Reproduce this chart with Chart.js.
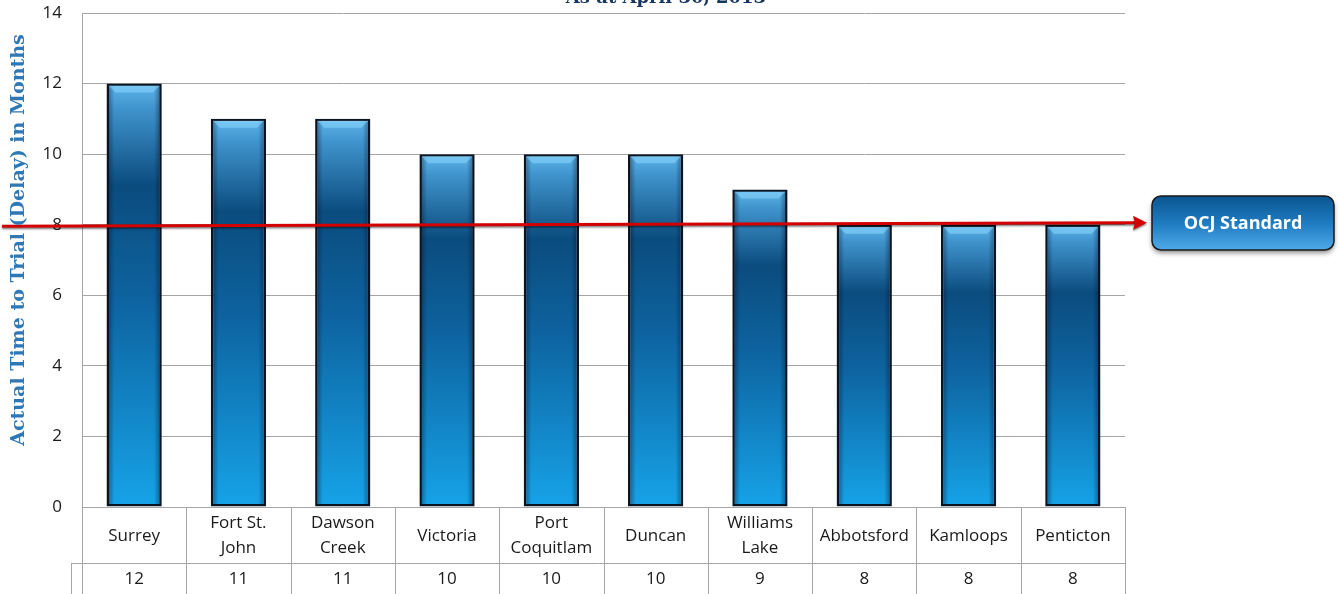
<!DOCTYPE html>
<html>
<head>
<meta charset="utf-8">
<script src="https://cdn.jsdelivr.net/npm/chart.js@4.4.0/dist/chart.umd.min.js"></script>
<style>
  html, body { margin: 0; padding: 0; background: #fff; }
  #wrap { width: 1338px; height: 594px; }
</style>
</head>
<body>
<div id="wrap"><canvas id="delayChart"></canvas></div>
<script>
// Time to trial by location
const locations = [
    'Surrey', ['Fort St.', 'John'], ['Dawson', 'Creek'], 'Victoria', ['Port', 'Coquitlam'],
    'Duncan', ['Williams', 'Lake'], 'Abbotsford', 'Kamloops', 'Penticton'
];
const monthsToTrial = [12, 11, 11, 10, 10, 10, 9, 8, 8, 8];
const ocjStandard = 8;
const yTicks = [0, 2, 4, 6, 8, 10, 12, 14];

const chartTitle = 'As at April 30, 2013';
const yTitle = 'Actual Time to Trial (Delay) in Months';
const standardLabel = 'OCJ Standard';

const LABEL_FONT = "'Open Sans', sans-serif";

function barGradient(context) {
    const chart = context.chart;
    if (!chart.chartArea || context.raw === undefined) return '#0e5f98';
    const y = chart.scales.y;
    const top = y.getPixelForValue(context.raw);
    const base = y.getPixelForValue(0);
    const g = chart.ctx.createLinearGradient(0, top, 0, base);
    g.addColorStop(0, '#5cb6ea');
    g.addColorStop(0.06, '#3f93cc');
    g.addColorStop(0.24, '#0b4c7e');
    g.addColorStop(0.5, '#0d629e');
    g.addColorStop(1, '#16a3e8');
    return g;
}

// bevel + side shading on the bars
const barShade = {
    id: 'barShade',
    afterDatasetsDraw(chart) {
        const ctx = chart.ctx;
        chart.getDatasetMeta(0).data.forEach(bar => {
            const l = bar.x - bar.width / 2, r = bar.x + bar.width / 2;
            const t = bar.y, b = bar.base;
            ctx.save();
            const h = ctx.createLinearGradient(l, 0, r, 0);
            h.addColorStop(0, 'rgba(0,15,40,0.5)');
            h.addColorStop(0.14, 'rgba(0,15,40,0)');
            h.addColorStop(0.86, 'rgba(0,15,40,0)');
            h.addColorStop(1, 'rgba(0,15,40,0.5)');
            ctx.fillStyle = h;
            ctx.fillRect(l + 1, t + 1, r - l - 2, b - t - 2);
            ctx.fillStyle = 'rgba(140,215,255,0.55)';
            ctx.beginPath();
            ctx.moveTo(l + 2, t + 2);
            ctx.lineTo(r - 2, t + 2);
            ctx.lineTo(r - 9, t + 9);
            ctx.lineTo(l + 9, t + 9);
            ctx.closePath();
            ctx.fill();
            ctx.restore();
        });
    }
};

// red standard arrow and the label box
const standardArrow = {
    id: 'standardArrow',
    afterDatasetsDraw(chart) {
        const ctx = chart.ctx;
        const yp = chart.scales.y.getPixelForValue(ocjStandard);
        const x0 = 2, x1 = 1136, tip = 1147;
        const y0 = yp + 1.5, y1 = yp - 2;
        ctx.save();
        ctx.shadowColor = 'rgba(0,0,0,0.5)';
        ctx.shadowOffsetY = 1.5;
        ctx.shadowBlur = 2;
        ctx.strokeStyle = '#d40000';
        ctx.lineWidth = 3;
        ctx.beginPath();
        ctx.moveTo(x0, y0);
        ctx.lineTo(x1, y1);
        ctx.stroke();
        ctx.fillStyle = '#d40000';
        ctx.beginPath();
        ctx.moveTo(tip, y1);
        ctx.lineTo(tip - 14, y1 - 7);
        ctx.lineTo(tip - 12, y1);
        ctx.lineTo(tip - 14, y1 + 7);
        ctx.closePath();
        ctx.fill();
        ctx.restore();

        // box
        const bx = 1152, by = 196, bw = 182, bh = 54;
        ctx.save();
        ctx.shadowColor = 'rgba(0,0,0,0.45)';
        ctx.shadowOffsetY = 3;
        ctx.shadowBlur = 5;
        const g = ctx.createLinearGradient(0, by, 0, by + bh);
        g.addColorStop(0, '#0a5590');
        g.addColorStop(0.5, '#1f7bc0');
        g.addColorStop(1, '#4eaae8');
        ctx.fillStyle = g;
        ctx.beginPath();
        ctx.roundRect(bx, by, bw, bh, 9);
        ctx.fill();
        ctx.shadowColor = 'transparent';
        ctx.strokeStyle = '#1a1a1a';
        ctx.lineWidth = 1.5;
        ctx.stroke();
        ctx.fillStyle = '#ffffff';
        ctx.font = "bold 18px " + LABEL_FONT;
        ctx.textAlign = 'center';
        ctx.textBaseline = 'middle';
        ctx.fillText(standardLabel, bx + bw / 2, by + bh / 2 + 1);
        ctx.restore();
    }
};

// category / value table under the plot, plus titles
const dataTable = {
    id: 'dataTable',
    afterDraw(chart) {
        const ctx = chart.ctx;
        const x = chart.scales.x;
        const area = chart.chartArea;
        const row1 = area.bottom, row2 = area.bottom + 56, end = chart.height;
        const step = (area.right - area.left) / locations.length;
        ctx.save();
        ctx.strokeStyle = '#a6a6a6';
        ctx.lineWidth = 1;
        ctx.beginPath();
        for (let i = 0; i <= locations.length; i++) {
            const px = Math.round(area.left + i * step) + 0.5;
            ctx.moveTo(px, row1);
            ctx.lineTo(px, end);
        }
        ctx.moveTo(area.left - 10.5, row2 + 0.5);
        ctx.lineTo(area.right, row2 + 0.5);
        ctx.moveTo(area.left - 10.5, row2);
        ctx.lineTo(area.left - 10.5, end);
        ctx.stroke();

        ctx.fillStyle = '#1a1a1a';
        ctx.font = "17px " + LABEL_FONT;
        ctx.textAlign = 'center';
        ctx.textBaseline = 'middle';
        locations.forEach((lab, i) => {
            const cx = x.getPixelForValue(i);
            const lines = Array.isArray(lab) ? lab : [lab];
            const lh = 25;
            const mid = (row1 + row2) / 2 + 1;
            lines.forEach((ln, k) => {
                ctx.fillText(ln, cx, mid + (k - (lines.length - 1) / 2) * lh);
            });
            ctx.fillText(String(monthsToTrial[i]), cx, row2 + 16);
        });

        // titles
        ctx.fillStyle = '#17375e';
        ctx.font = "bold 18px 'DejaVu Serif', serif";
        ctx.textBaseline = 'alphabetic';
        ctx.fillText(chartTitle, 666, 3);

        ctx.translate(19, 240);
        ctx.rotate(-Math.PI / 2);
        ctx.fillStyle = '#2e78b6';
        ctx.font = "bold 19px 'DejaVu Serif', serif";
        ctx.textBaseline = 'middle';
        ctx.fillText(yTitle, 0, 0);
        ctx.restore();
    }
};

new Chart(document.getElementById('delayChart'), {
    type: 'bar',
    data: {
        labels: locations,
        datasets: [{
            label: 'Months',
            data: monthsToTrial,
            backgroundColor: barGradient,
            borderColor: '#0a1622',
            borderWidth: 2.5,
            borderSkipped: false,
            categoryPercentage: 1,
            barPercentage: 0.53
        }]
    },
    options: {
        responsive: true,
        maintainAspectRatio: false,
        animation: false,
        layout: { padding: { left: 0, right: 213, top: 13, bottom: 0 } },
        plugins: {
            legend: { display: false },
            tooltip: { enabled: false }
        },
        scales: {
            x: {
                grid: { display: false },
                border: { display: false },
                ticks: { display: false },
                afterFit(scale) { scale.height = 87; }
            },
            y: {
                min: 0,
                max: 14,
                afterBuildTicks(scale) { scale.ticks = yTicks.map(v => ({ value: v })); },
                afterFit(scale) { scale.width = 82; },
                grid: { color: '#a6a6a6', lineWidth: 1, drawTicks: true, tickLength: 20, tickColor: 'rgba(0,0,0,0)' },
                border: { display: true, color: '#a6a6a6' },
                ticks: {
                    color: '#1a1a1a',
                    padding: 0,
                    font: { family: LABEL_FONT, size: 17 }
                }
            }
        }
    },
    plugins: [barShade, standardArrow, dataTable]
});
</script>
</body>
</html>
